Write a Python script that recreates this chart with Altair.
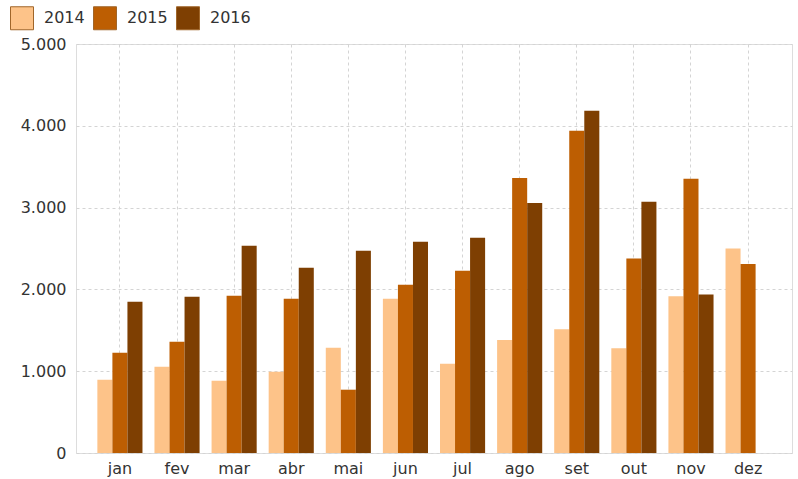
import altair as alt
import pandas as pd

months = ["jan", "fev", "mar", "abr", "mai", "jun", "jul", "ago", "set", "out", "nov", "dez"]
years = ["2014", "2015", "2016"]
v2014 = [896, 1055, 884, 994, 1287, 1886, 1091, 1382, 1512, 1280, 1915, 2500]
v2015 = [1226, 1361, 1923, 1886, 774, 2057, 2228, 3362, 3939, 2378, 3354, 2309]
v2016 = [1850, 1911, 2534, 2265, 2473, 2583, 2632, 3057, 4183, 3073, 1939, None]
colors = ["#FDC389", "#BD5E02", "#7E3F02"]

rows = []
for yr, vals in zip(years, [v2014, v2015, v2016]):
    for m, v in zip(months, vals):
        if v is not None:
            rows.append({"mes": m, "ano": yr, "valor": v})
df = pd.DataFrame(rows)

font = "DejaVu Sans"

chart = alt.Chart(df).mark_bar().encode(
    x=alt.X("mes:N", sort=months, title=None,
            scale=alt.Scale(paddingInner=0.21, paddingOuter=0.374),
            axis=alt.Axis(labelAngle=0, ticks=False, domain=False, grid=True,
                          bandPosition=0.5, gridDash=[3, 3], gridColor="#d4d4d4",
                          labelFont=font, labelFontSize=16, labelColor="#333333",
                          labelPadding=7)),
    xOffset=alt.XOffset("ano:N", sort=years),
    y=alt.Y("valor:Q", title=None,
            scale=alt.Scale(domain=[0, 5000], nice=False),
            axis=alt.Axis(values=[0, 1000, 2000, 3000, 4000, 5000], ticks=False, domain=False,
                          gridDash=[3, 3], gridColor="#d4d4d4",
                          labelExpr="replace(format(datum.value, ',d'), ',', '.')",
                          labelFont=font, labelFontSize=16, labelColor="#333333",
                          labelPadding=10)),
    color=alt.Color("ano:N", sort=years, title=None,
                    scale=alt.Scale(domain=years, range=colors),
                    legend=alt.Legend(orient="none", legendX=-66, legendY=-38,
                                      direction="horizontal", symbolType="square",
                                      symbolSize=529, symbolStrokeWidth=1,
                                      symbolStrokeColor="#a0662a",
                                      labelFont=font, labelFontSize=16, labelColor="#333333",
                                      columnPadding=6, labelOffset=10)),
).properties(
    width=716, height=409,
    autosize=alt.AutoSizeParams(type="none"),
    padding={"left": 76, "top": 44, "right": 6, "bottom": 26},
).configure_view(stroke=None).configure(background="white")

chart.save("out.html", embed_options={"renderer": "svg", "actions": False})
